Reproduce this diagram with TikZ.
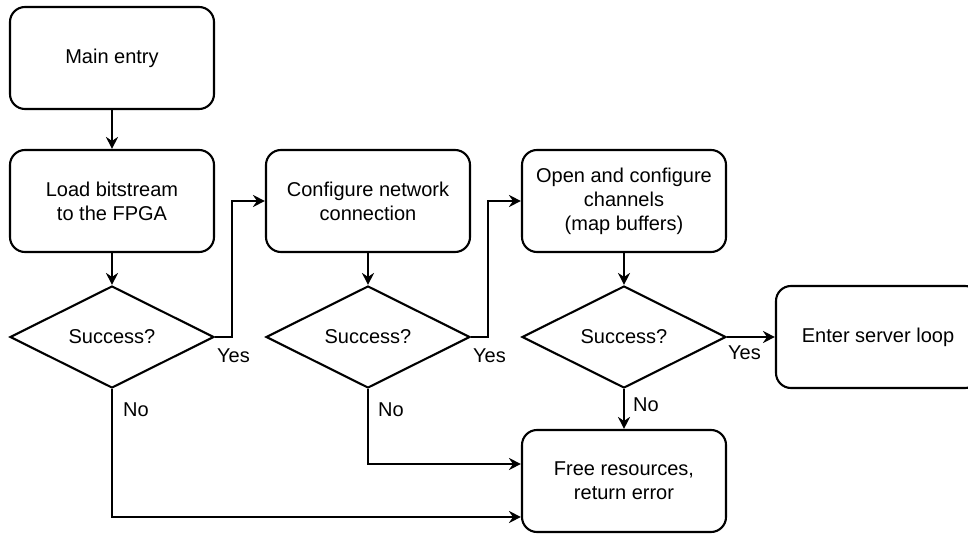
\documentclass[tikz,border=0pt]{standalone}
\usepackage{fontspec}
\setmainfont{Liberation Sans}
\usetikzlibrary{arrows.meta,shapes.geometric}
\begin{document}
\begin{tikzpicture}[x=1pt,y=-1pt,
  every node/.style={font=\fontsize{20}{24}\selectfont},
  stepbox/.style={draw,line width=2.1pt,rounded corners=15pt,minimum width=204pt,minimum height=102pt,align=center,inner sep=0pt},
  decision/.style={draw,diamond,line width=2.1pt,minimum width=204pt,minimum height=102pt,aspect=2,inner sep=0pt},
  flow/.style={line width=2.1pt,-{Stealth[length=12pt,width=12pt,inset=4pt]}},
  lbl/.style={inner sep=0pt,anchor=west}
]
\clip (0,0) rectangle (968,534);

% process boxes
\node[stepbox] (main) at (112,58) {Main entry};
\node[stepbox] (load) at (112,201) {Load bitstream\\to the FPGA};
\node[stepbox] (net)  at (368,201) {Configure network\\connection};
\node[stepbox] (chan) at (624,201) {Open and configure\\channels\\(map buffers)};
\node[stepbox] (loop) at (878,337) {Enter server loop};
\node[stepbox] (free) at (624,481) {Free resources,\\return error};

% decisions
\node[decision] (d1) at (112,337) {Success?};
\node[decision] (d2) at (368,337) {Success?};
\node[decision] (d3) at (624,337) {Success?};

% main sequence
\draw[flow] (main) -- (load);
\draw[flow] (load) -- (d1);
\draw[flow] (net) -- (d2);
\draw[flow] (chan) -- (d3);

% success branches
\draw[flow] (d1.east) -| (232,290) |- (net.west);
\draw[flow] (d2.east) -| (488,290) |- (chan.west);
\draw[flow] (d3.east) -- (loop.west);

% failure branches
\draw[flow] (d1.south) |- (free.west |- 0,517);
\draw[flow] (d2.south) |- (free.west |- 0,464);
\draw[flow] (d3.south) -- (free.north);

% branch labels
\node[lbl] (y1) at (217,356) {Yes};
\node[lbl] (y2) at (473,356) {Yes};
\node[lbl] (y3) at (728,353) {Yes};
\node[lbl] (n1) at (123,410) {No};
\node[lbl] (n2) at (378,410) {No};
\node[lbl] (n3) at (633,405) {No};
\end{tikzpicture}
\end{document}
